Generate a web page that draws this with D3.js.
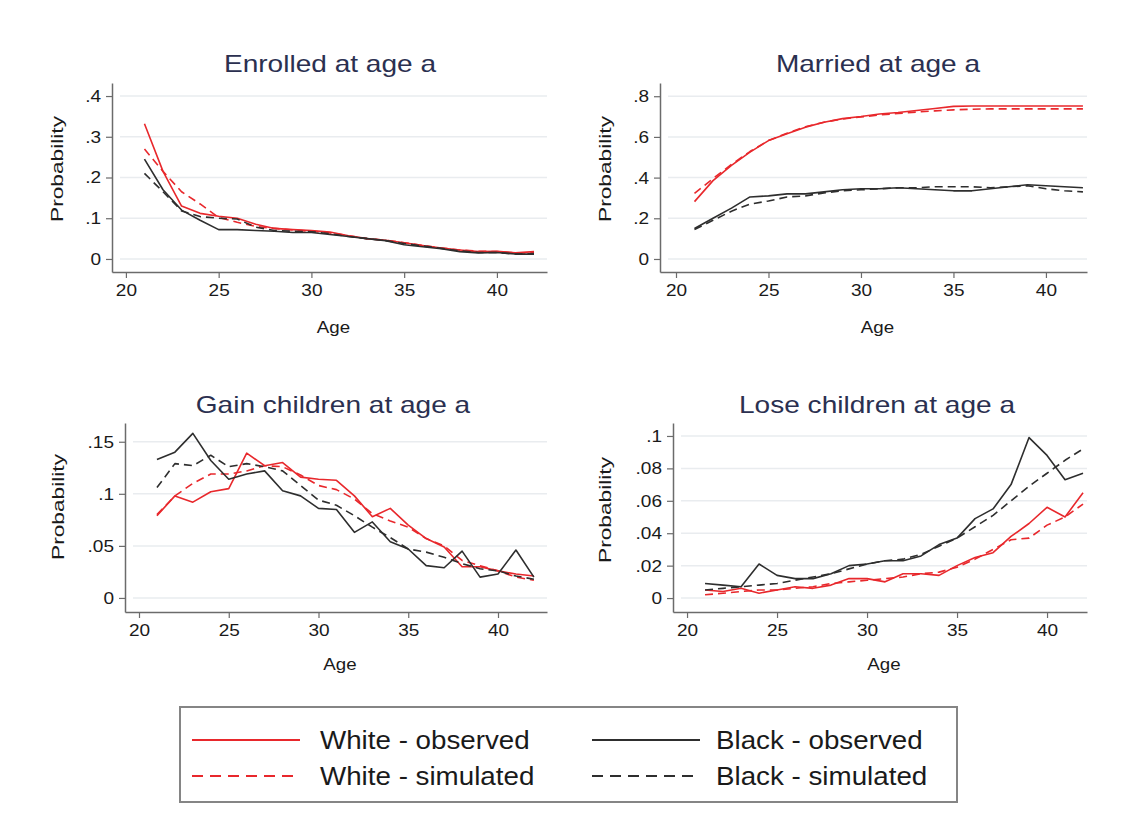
<!DOCTYPE html>
<html>
<head>
<meta charset="utf-8">
<script src="https://cdn.jsdelivr.net/npm/d3@7"></script>
<style>
  html, body { margin: 0; padding: 0; background: #ffffff; }
  svg { display: block; font-family: "Liberation Sans", Arial, Helvetica, sans-serif; }
</style>
</head>
<body>
<svg id="chart" width="1135" height="830"></svg>
<script>
// Ages observed in every panel
const ages = d3.range(21, 43);

// Enrolled at age a
const enrolledWhiteObs = [0.332, 0.215, 0.13, 0.112, 0.105, 0.10, 0.085, 0.075, 0.072, 0.07, 0.066, 0.057, 0.05, 0.046, 0.04, 0.033, 0.027, 0.022, 0.018, 0.019, 0.015, 0.018];
const enrolledWhiteSim = [0.27, 0.215, 0.165, 0.135, 0.102, 0.09, 0.08, 0.075, 0.071, 0.068, 0.064, 0.057, 0.05, 0.046, 0.04, 0.033, 0.027, 0.022, 0.019, 0.018, 0.015, 0.015];
const enrolledBlackObs = [0.245, 0.17, 0.12, 0.095, 0.072, 0.072, 0.07, 0.068, 0.065, 0.065, 0.06, 0.055, 0.05, 0.045, 0.035, 0.03, 0.025, 0.018, 0.015, 0.016, 0.012, 0.012];
const enrolledBlackSim = [0.21, 0.165, 0.118, 0.104, 0.1, 0.098, 0.078, 0.07, 0.068, 0.067, 0.062, 0.055, 0.05, 0.045, 0.038, 0.032, 0.026, 0.02, 0.016, 0.016, 0.012, 0.013];

// Married at age a
const marriedWhiteObs = [0.282, 0.385, 0.46, 0.525, 0.582, 0.615, 0.648, 0.672, 0.69, 0.70, 0.713, 0.72, 0.73, 0.74, 0.75, 0.752, 0.752, 0.752, 0.752, 0.752, 0.752, 0.752];
const marriedWhiteSim = [0.322, 0.395, 0.465, 0.528, 0.582, 0.618, 0.65, 0.672, 0.688, 0.698, 0.708, 0.715, 0.722, 0.728, 0.733, 0.736, 0.738, 0.738, 0.738, 0.738, 0.738, 0.738];
const marriedBlackObs = [0.15, 0.2, 0.25, 0.305, 0.31, 0.32, 0.32, 0.33, 0.34, 0.345, 0.345, 0.35, 0.345, 0.34, 0.335, 0.335, 0.345, 0.355, 0.365, 0.36, 0.355, 0.35];
const marriedBlackSim = [0.145, 0.19, 0.235, 0.27, 0.285, 0.305, 0.31, 0.325, 0.335, 0.34, 0.345, 0.35, 0.35, 0.355, 0.355, 0.355, 0.35, 0.355, 0.36, 0.345, 0.335, 0.33];

// Gain children at age a
const gainWhiteObs = [0.079, 0.098, 0.092, 0.102, 0.105, 0.139, 0.127, 0.13, 0.116, 0.114, 0.113, 0.098, 0.078, 0.086, 0.07, 0.057, 0.049, 0.03, 0.03, 0.026, 0.023, 0.021];
const gainWhiteSim = [0.08, 0.098, 0.11, 0.119, 0.119, 0.122, 0.127, 0.126, 0.118, 0.108, 0.104, 0.095, 0.081, 0.074, 0.068, 0.057, 0.05, 0.036, 0.031, 0.026, 0.02, 0.017];
const gainBlackObs = [0.133, 0.14, 0.158, 0.132, 0.114, 0.119, 0.122, 0.103, 0.098, 0.086, 0.085, 0.063, 0.073, 0.054, 0.047, 0.031, 0.029, 0.045, 0.02, 0.023, 0.046, 0.02];
const gainBlackSim = [0.106, 0.129, 0.127, 0.137, 0.126, 0.129, 0.126, 0.122, 0.108, 0.094, 0.089, 0.079, 0.068, 0.058, 0.047, 0.044, 0.039, 0.033, 0.028, 0.026, 0.021, 0.018];

// Lose children at age a
const loseWhiteObs = [0.005, 0.004, 0.006, 0.003, 0.005, 0.007, 0.006, 0.008, 0.012, 0.012, 0.01, 0.015, 0.015, 0.014, 0.02, 0.025, 0.028, 0.038, 0.046, 0.056, 0.05, 0.065];
const loseWhiteSim = [0.002, 0.003, 0.004, 0.005, 0.005, 0.006, 0.007, 0.009, 0.01, 0.011, 0.012, 0.013, 0.015, 0.016, 0.019, 0.024, 0.03, 0.036, 0.037, 0.045, 0.05, 0.058];
const loseBlackObs = [0.009, 0.008, 0.007, 0.021, 0.014, 0.012, 0.012, 0.015, 0.02, 0.021, 0.023, 0.023, 0.026, 0.033, 0.037, 0.049, 0.055, 0.07, 0.099, 0.088, 0.073, 0.077];
const loseBlackSim = [0.005, 0.006, 0.007, 0.008, 0.009, 0.011, 0.013, 0.015, 0.018, 0.021, 0.023, 0.024, 0.027, 0.032, 0.037, 0.044, 0.051, 0.06, 0.069, 0.077, 0.085, 0.092];

// Axis ticks
const ageTicks = [20, 25, 30, 35, 40];
const enrolledTicks = [0, 0.1, 0.2, 0.3, 0.4];
const marriedTicks = [0, 0.2, 0.4, 0.6, 0.8];
const gainTicks = [0, 0.05, 0.1, 0.15];
const loseTicks = [0, 0.02, 0.04, 0.06, 0.08, 0.1];

// Legend entries
const seriesNames = ["White - observed", "White - simulated", "Black - observed", "Black - simulated"];

const RED = "#e8282c";
const DARK = "#2e2e2e";
const seriesStyle = [
  { color: RED, dash: null },
  { color: RED, dash: "8,5" },
  { color: DARK, dash: null },
  { color: DARK, dash: "8,5" }
];

const panels = [
  { title: "Enrolled at age a", series: [enrolledWhiteObs, enrolledWhiteSim, enrolledBlackObs, enrolledBlackSim],
    yTicks: enrolledTicks, left: 112, right: 547, top: 83, bottom: 272, xDom: [19.25, 42.7], yDom: [-0.032, 0.432],
    titleX: 330, titleY: 72, yLabX: 57, yLabY: 169, xLabY: 333 },
  { title: "Married at age a", series: [marriedWhiteObs, marriedWhiteSim, marriedBlackObs, marriedBlackSim],
    yTicks: marriedTicks, left: 660, right: 1087, top: 83, bottom: 272, xDom: [19.135, 42.22], yDom: [-0.064, 0.865],
    titleX: 878, titleY: 72, yLabX: 605, yLabY: 169, xLabY: 333 },
  { title: "Gain children at age a", series: [gainWhiteObs, gainWhiteSim, gainBlackObs, gainBlackSim],
    yTicks: gainTicks, left: 125, right: 547, top: 423, bottom: 612, xDom: [19.22, 42.73], yDom: [-0.0135, 0.168],
    titleX: 333, titleY: 413, yLabX: 58, yLabY: 507, xLabY: 670 },
  { title: "Lose children at age a", series: [loseWhiteObs, loseWhiteSim, loseBlackObs, loseBlackSim],
    yTicks: loseTicks, left: 673, right: 1087, top: 423, bottom: 612, xDom: [19.22, 42.22], yDom: [-0.0086, 0.108],
    titleX: 877, titleY: 413, yLabX: 605, yLabY: 510, xLabY: 670 }
];

const svg = d3.select("#chart");
svg.append("rect").attr("width", 1135).attr("height", 830).attr("fill", "#ffffff");

// Stata-style number labels: ".4" rather than "0.4"
const fmtProb = d => d === 0 ? "0" : String(+d.toFixed(3)).replace(/^0\./, ".");

// Text is set a little wider than the base face, along its own baseline
const TITLE = { size: 23, sx: 1.22 };
const TICK = { size: 17, sx: 1.12 };
const YLAB = { size: 16, sx: 1.42 };
const XLAB = { size: 17, sx: 1.1 };
const LEG = { size: 25, sx: 1.11 };

function wideText(parent, x, y, str, style, rotate) {
  return parent.append("text")
    .attr("transform", `translate(${x},${y})${rotate ? " rotate(-90)" : ""} scale(${style.sx},1)`)
    .attr("font-size", style.size)
    .text(str);
}

panels.forEach(p => {
  const x = d3.scaleLinear().domain(p.xDom).range([p.left, p.right]);
  const y = d3.scaleLinear().domain(p.yDom).range([p.bottom, p.top]);
  const g = svg.append("g");

  // horizontal gridlines
  g.append("g").selectAll("line").data(p.yTicks).join("line")
    .attr("x1", p.left + 8).attr("x2", p.right)
    .attr("y1", d => y(d)).attr("y2", d => y(d))
    .attr("stroke", "#e9ecef").attr("stroke-width", 1.5);

  // y axis
  const ya = g.append("g").attr("transform", `translate(${p.left},0)`)
    .call(d3.axisLeft(y).tickValues(p.yTicks).tickFormat(fmtProb).tickSize(6).tickPadding(5).tickSizeOuter(0));
  ya.select(".domain").attr("stroke", "#6b6b6b").attr("stroke-width", 1.5);
  ya.selectAll(".tick line").attr("stroke", "#6b6b6b").attr("stroke-width", 1.2);
  ya.selectAll(".tick text")
    .attr("font-size", TICK.size).attr("fill", "#1a1a1a").attr("font-family", "Liberation Sans, Arial, sans-serif")
    .attr("x", -11 / TICK.sx).attr("transform", `scale(${TICK.sx},1)`);

  // x axis
  const xa = g.append("g").attr("transform", `translate(0,${p.bottom})`)
    .call(d3.axisBottom(x).tickValues(ageTicks).tickFormat(d3.format("d")).tickSize(6).tickPadding(6).tickSizeOuter(0));
  xa.select(".domain").attr("stroke", "#6b6b6b").attr("stroke-width", 1.5);
  xa.selectAll(".tick line").attr("stroke", "#6b6b6b").attr("stroke-width", 1.2);
  xa.selectAll(".tick text")
    .attr("font-size", TICK.size).attr("fill", "#1a1a1a").attr("font-family", "Liberation Sans, Arial, sans-serif")
    .attr("transform", `scale(${TICK.sx},1)`);

  // series lines
  const line = d3.line().x((d, i) => x(ages[i])).y(d => y(d));
  p.series.forEach((vals, k) => {
    g.append("path").datum(vals)
      .attr("d", line)
      .attr("fill", "none")
      .attr("stroke", seriesStyle[k].color)
      .attr("stroke-width", 1.6)
      .attr("stroke-linejoin", "round")
      .attr("stroke-dasharray", seriesStyle[k].dash);
  });

  // titles
  wideText(g, p.titleX, p.titleY, p.title, TITLE)
    .attr("text-anchor", "middle").attr("fill", "#2b3050");
  wideText(g, p.yLabX, p.yLabY, "Probability", YLAB, true)
    .attr("dy", "0.35em").attr("text-anchor", "middle").attr("fill", "#1a1a1a");
  wideText(g, (p.left + p.right) / 2 + 4, p.xLabY, "Age", XLAB)
    .attr("text-anchor", "middle").attr("fill", "#1a1a1a");
});

// legend
const lg = svg.append("g");
lg.append("rect").attr("x", 180).attr("y", 707).attr("width", 777).attr("height", 95)
  .attr("fill", "#ffffff").attr("stroke", "#858585").attr("stroke-width", 2);
const legendPos = [
  { lx: 192, tx: 320, y: 740 },
  { lx: 192, tx: 320, y: 776 },
  { lx: 592, tx: 716, y: 740 },
  { lx: 592, tx: 716, y: 776 }
];
seriesNames.forEach((name, k) => {
  const pos = legendPos[k];
  lg.append("line").attr("x1", pos.lx).attr("x2", pos.lx + 108)
    .attr("y1", pos.y).attr("y2", pos.y)
    .attr("stroke", seriesStyle[k].color).attr("stroke-width", 2)
    .attr("stroke-dasharray", seriesStyle[k].dash ? "11,7" : null);
  wideText(lg, pos.tx, pos.y + 9, name, LEG).attr("fill", "#1a1a1a");
});
</script>
</body>
</html>
